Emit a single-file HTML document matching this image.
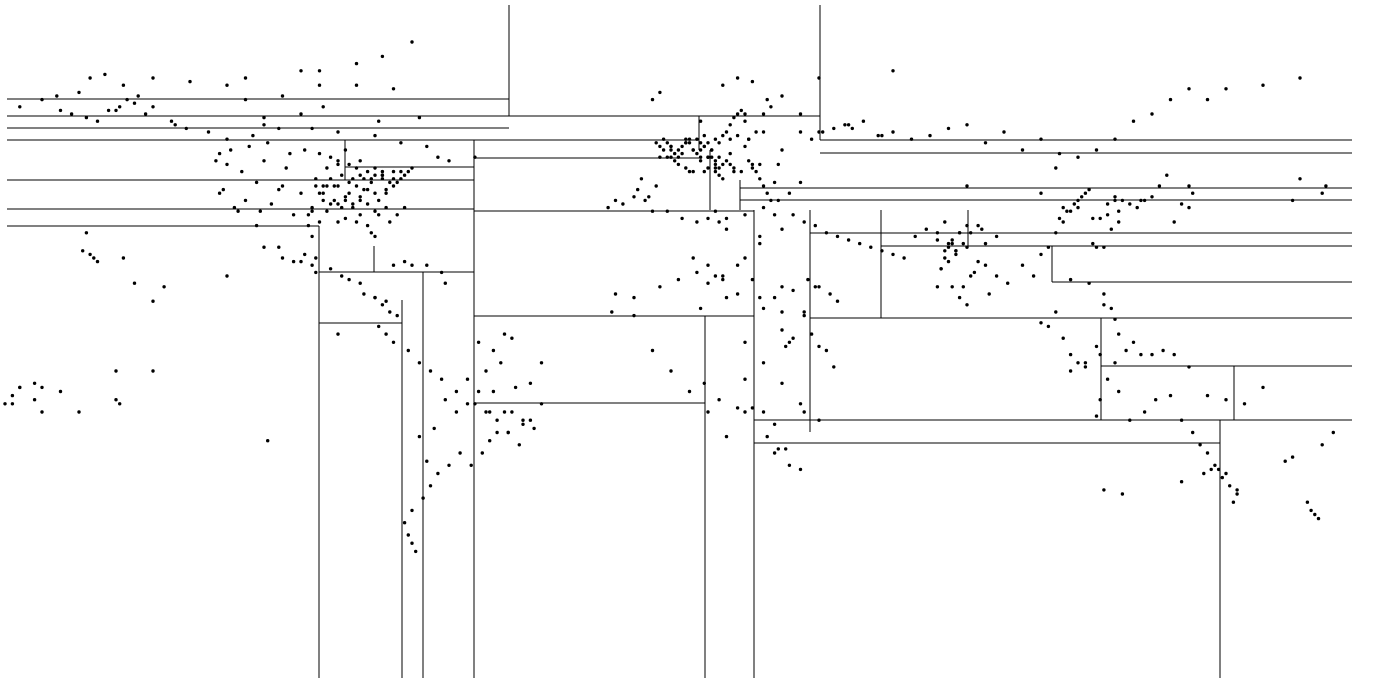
<!DOCTYPE html>
<html><head><meta charset="utf-8"><style>
html,body{margin:0;padding:0;background:#fff;width:1374px;height:686px;overflow:hidden}
svg{display:block}
</style></head><body>
<svg id="chart" width="1374" height="686" viewBox="0 0 1374 686">
<g id="splits" stroke="#000" stroke-width="1"></g>
<g id="points" fill="#000"></g>
</svg>
<script>
const vSplitX = [509,820,319,402,423,474,705,754,1220,810,881,1101,1234,345,699,710,740,968,1052,374];
const vSplitY1 = [5,5,226,300,272,140,316,210,420,210,210,318,366,140,116,150,180,210,246,246];
const vSplitY2 = [116,140,678,678,678,678,678,678,678,432,318,420,420,180,150,210,210,246,282,272];
const hSplitY = [99,116,128,140,140,153,180,209,226,158,167,211,188,200,233,246,282,318,316,403,366,420,443,272,323];
const hSplitX1 = [7,7,7,7,820,820,7,7,7,474,345,474,740,740,810,881,1052,810,474,474,1101,754,754,319,319];
const hSplitX2 = [509,820,509,699,1352,1352,474,474,319,699,474,754,1352,1352,1352,1352,1352,1352,754,705,1352,1352,1220,474,402];

const lons = [
-165,-162,-158,-155,-152,-150,-149,-147,-145,-142,-140,-135,-134,-131,-160,-157,-153,-148,-144,-166,-170,-176,
-123,-122,-121,-120,-118,-117,-116,-115,-112,-111,-110,-108,-106,-105,-104,-102,-100,-98,-97,-96,-95,-94,-93,-92,-91,-90,-89,-88,-87,-86,-85,-84,-83,-82,-81,-80,-79,-78,-77,-76,-75,-74,-73,-72,-71,-70,
-122,-119,-114,-109,-103,-99,-95,-90,-87,-84,-81,-78,-75,-97,-93,-88,-85,-82,-80,-77,-90,-84,-80,-96,-100,-106,-112,
-125,-120,-113,-106,-97,-90,-80,-73,-66,-63,-60,-53,-110,-100,-94,-79,-68,-115,-105,-95,-85,-75,-120,-130,-140,-95,-85,-78,-70,
-110,-105,-102,-99,-97,-96,-92,-89,-87,-84,-83,-80,-77,-75,-72,-70,-66,-62,-61,
-80,-78,-76,-74,-79,-77,-75,-71,-68,-65,-62,-58,-55,-50,-47,-44,-40,-38,-35,-52,-48,-45,-43,-49,-51,-54,-57,-60,-63,-65,-67,-70,-72,-71,-70,-69,-68,-66,-64,-58,-61,
-157,-156,-159,-155,-176,-150,-149,-140,-170,-172,-178,-109,-90,
-9,-8,-6,-4,-3,-2,-1,0,1,2,3,4,5,6,7,8,9,10,11,12,13,14,15,16,17,18,19,20,21,22,23,24,25,26,27,28,29,30,
2,4,6,8,10,12,14,16,8,9,10,11,12,13,-1,0,3,5,7,9,11,13,15,17,19,21,23,25,27,-5,-3,14,18,22,26,30,24,20,12,
-17,-15,-13,-10,-7,-5,-1,3,7,10,13,15,20,25,29,32,35,37,40,43,45,8,12,18,22,28,31,33,36,39,15,25,30,
-16,-10,-3,2,7,10,14,18,24,30,33,38,40,42,44,9,13,20,26,29,32,35,31,28,25,22,18,30,36,40,47,49,57,
35,38,41,44,48,52,56,60,65,70,75,80,85,90,95,100,105,110,115,120,125,130,135,140,145,150,160,170,40,60,80,100,120,140,
33,36,39,42,45,48,51,54,57,60,63,66,69,72,75,77,79,81,83,85,88,91,73,76,78,80,72,75,77,74,
95,98,100,102,104,106,108,110,112,114,116,118,120,121,122,124,126,127,128,130,132,134,136,138,140,141,104,108,113,117,120,
100,102,104,106,108,110,112,115,117,119,121,123,125,127,130,133,136,140,145,150,155,160,166,168,176,179,
115,116,118,121,124,128,131,135,138,141,143,145,147,149,151,153,153,152,150,148,146,144,138,117,122,
172,173,174,175,176,177,170,168,
-97,-95,-93,-91,-89,-87,-85,-83,-81,-79,-77,-75,-73,-96,-94,-92,-90,-88,-86,-84,-82,-80,-78,-76,-74,-72,-98,-94,-90,-86,-82,-78,-92,-88,-84,-80,
-4,-2,0,2,4,6,8,10,12,14,16,18,20,22,24,-3,1,5,9,13,17,21,25,0,4,8,12,16,20,24,6,10,14,
72,74,76,78,80,82,84,86,88,73,75,77,79,81,83,85,74,76,78,80,
105,107,109,111,113,115,117,119,121,106,110,114,118,108,112,116,120,
-55,-52,-49,-46,-43,-40,-37,-35,-50,-47,-44,-41,-38,-53,-48,-45,-42,
-180,-178,-176,-172,-170,-165,-160,-150,-148,-145,-140,-137,
-15,-10,-5,0,5,10,15,20,30,35,40,28,32,36,25,20,15,30,35,28,
-158,-120,-110,-115,-100,-90,-150,-140,-155
];
const lats = [
61,60,59,58,61,61,62,64,63,60,62,58,57,56,66,70,71,68,65,65,64,62,
47,38,39,46,34,33,44,36,41,33,47,35,39,40,45,32,38,29,33,42,30,36,45,35,40,30,43,37,41,34,45,32,39,35,27,26,36,43,39,41,40,41,42,43,44,45,
49,50,51,52,49,50,49,47,46,43,42,43,44,26,33,31,30,29,33,38,35,36,38,20,19,23,29,
55,53,54,56,56,55,54,52,51,48,47,48,59,60,62,58,59,64,65,68,68,67,68,69,70,72,74,76,80,
23,20,19,21,18,16,17,15,14,13,10,9,8,18,19,18,18,16,13,
9,7,5,4,1,-1,-3,-5,-8,-10,-12,-15,-18,-20,-22,-25,-23,-13,-8,-3,-5,-1,-2,-27,-30,-33,-30,-33,-35,-38,-41,-44,-47,-50,-52,-54,-26,-32,-24,-20,-17,
21,20,22,19,-14,-17,-18,-10,-14,-13,-18,-27,-1,
39,42,37,40,51,53,52,51,49,48,51,52,53,50,49,52,54,48,50,53,52,54,55,53,59,60,61,58,47,45,44,42,40,38,36,41,46,50,
46,45,44,47,48,47,46,49,50,51,52,48,46,45,48,50,49,52,53,51,50,48,47,45,44,53,55,60,62,64,66,68,70,69,64,
28,24,20,33,34,36,35,37,36,33,33,31,30,31,30,31,32,34,36,38,41,14,12,10,8,6,15,18,14,9,-4,-2,4,
12,9,6,5,5,4,12,14,16,13,15,10,9,12,11,-1,-4,-5,-9,-13,-17,-20,-26,-29,-33,-34,-29,-23,-20,-19,-19,-13,-20,
55,57,56,54,55,53,55,56,57,58,54,55,53,54,56,57,52,55,50,53,49,48,50,53,58,60,64,67,64,67,68,70,70,72,
40,38,36,34,32,30,29,27,26,25,24,23,22,21,20,26,28,25,23,22,24,27,19,18,15,13,17,12,9,7,
27,24,22,20,18,15,21,23,27,30,33,36,38,31,31,35,37,33,36,35,34,36,36,37,40,43,30,35,40,38,45,
14,13,10,3,2,1,5,-2,-6,-8,-9,-4,7,6,-1,-5,-3,-6,-6,-5,-6,-9,-16,-17,-18,-14,
-32,-31,-28,-25,-21,-17,-12,-15,-22,-20,-17,-16,-22,-25,-28,-30,-33,-36,-38,-39,-40,-42,-35,-34,-34,
-35,-37,-39,-40,-42,-44,-45,-46,
38,40,42,36,34,38,40,36,34,38,40,42,41,32,34,42,44,40,38,42,40,36,35,37,39,43,44,30,32,34,32,40,46,42,44,42,
48,50,47,45,52,50,48,50,52,50,48,45,44,42,46,54,51,46,46,48,47,44,44,43,44,53,55,51,53,58,45,57,60,
26,20,18,14,12,22,24,27,23,16,28,10,26,17,19,21,12,15,29,24,
30,25,27,29,31,33,35,37,39,23,23,28,30,34,34,24,32,
-10,-8,-6,-8,-12,-15,-20,-8,-20,-22,-24,-18,-10,-25,-25,-28,-22,
-18,-15,-20,-14,-18,-16,-14,-17,-20,-15,-20,-10,
20,13,8,12,10,9,-5,-10,-15,-20,-26,-3,0,-18,-22,-30,-3,5,-8,-12,
28,65,60,32,27,15,57,70,72
];

const X = lon => 671 + lon * 3.7;
const Y = lat => lat >= 0 ? 330 - lat * 3.6 : 330 - lat * 4.1;
const NS = 'http://www.w3.org/2000/svg';

const gs = document.getElementById('splits');
for (let i = 0; i < vSplitX.length; i++) {
  const l = document.createElementNS(NS, 'line');
  
  
  l.setAttribute('x1', vSplitX[i]); l.setAttribute('x2', vSplitX[i]);
  l.setAttribute('y1', vSplitY1[i]); l.setAttribute('y2', vSplitY2[i]);
  gs.appendChild(l);
}
for (let i = 0; i < hSplitY.length; i++) {
  const l = document.createElementNS(NS, 'line');
  
  
  l.setAttribute('y1', hSplitY[i]); l.setAttribute('y2', hSplitY[i]);
  l.setAttribute('x1', hSplitX1[i]); l.setAttribute('x2', hSplitX2[i]);
  gs.appendChild(l);
}
const gp = document.getElementById('points');
const n = Math.min(lons.length, lats.length);
for (let i = 0; i < n; i++) {
  const c = document.createElementNS(NS, 'circle');
  
  
  c.setAttribute('cx', X(lons[i]).toFixed(1));
  c.setAttribute('cy', Y(lats[i]).toFixed(1));
  c.setAttribute('r', 1.7);
  gp.appendChild(c);
}
</script>
</body></html>
